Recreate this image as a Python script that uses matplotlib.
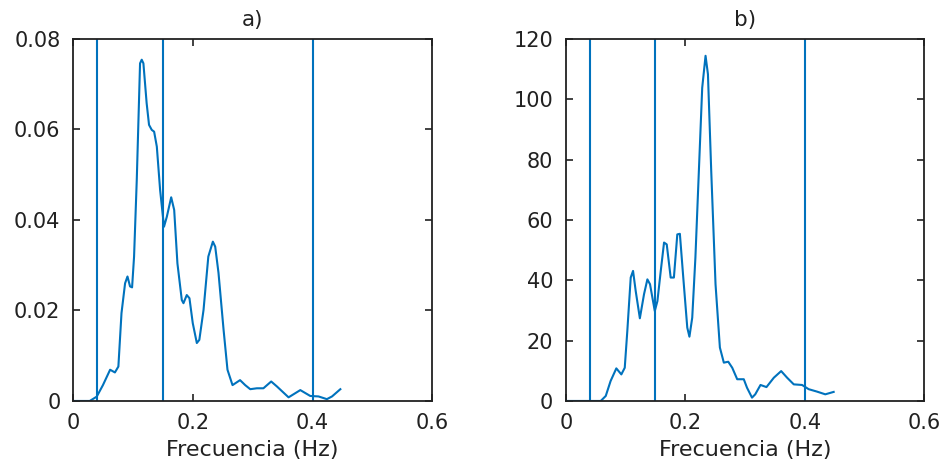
import matplotlib
matplotlib.use("Agg")
import matplotlib.pyplot as plt

plt.rcParams['font.family'] = ['DejaVu Sans']

# espectro a) - frecuencia (Hz) y potencia
freq_a = [0.0, 0.028, 0.0396, 0.050, 0.062, 0.070, 0.0758, 0.081, 0.087, 0.091,
          0.0953, 0.0987, 0.102, 0.1065, 0.112, 0.1148, 0.1176, 0.123, 0.127,
          0.1315, 0.1355, 0.140, 0.1455, 0.152, 0.1567, 0.164, 0.169, 0.1744,
          0.1817, 0.1845, 0.190, 0.1945, 0.200, 0.2068, 0.211, 0.218, 0.226,
          0.2336, 0.2375, 0.243, 0.2515, 0.258, 0.2664, 0.279, 0.2876, 0.296,
          0.307, 0.318, 0.331, 0.3406, 0.360, 0.3796, 0.3963, 0.410, 0.424,
          0.4326, 0.4465]
psd_a = [0.0, 0.0, 0.00095, 0.0035, 0.0069, 0.0063, 0.0076, 0.0194, 0.026, 0.0275,
         0.0253, 0.0251, 0.0319, 0.0488, 0.0746, 0.0754, 0.0746, 0.0658, 0.061,
         0.0599, 0.0595, 0.0562, 0.0466, 0.0385, 0.0407, 0.045, 0.0422, 0.0304,
         0.0223, 0.0216, 0.0234, 0.0227, 0.0172, 0.0128, 0.0135, 0.0201, 0.0319,
         0.0352, 0.0341, 0.0283, 0.0157, 0.0069, 0.0035, 0.0046, 0.0035, 0.0026,
         0.0028, 0.0028, 0.0043, 0.0032, 0.0008, 0.0024, 0.0011, 0.0010, 0.0004,
         0.0010, 0.0026]

# espectro b)
freq_b = [0.0, 0.0585, 0.0669, 0.075, 0.0846, 0.093, 0.0987, 0.103, 0.1087, 0.1126,
          0.117, 0.124, 0.131, 0.1366, 0.141, 0.149, 0.1534, 0.159, 0.1645, 0.169,
          0.1756, 0.181, 0.1867, 0.191, 0.1967, 0.2034, 0.207, 0.2117, 0.217,
          0.2228, 0.2284, 0.234, 0.238, 0.2435, 0.2507, 0.258, 0.2646, 0.272,
          0.2787, 0.287, 0.298, 0.3034, 0.3118, 0.3172, 0.326, 0.336, 0.3483,
          0.3606, 0.3706, 0.3817, 0.3956, 0.4067, 0.4206, 0.4345, 0.4485]
psd_b = [0.0, 0.0, 1.66, 6.6, 10.8, 8.8, 11.0, 23.2, 40.9, 43.1,
         36.5, 27.4, 35.4, 40.3, 38.7, 29.8, 33.1, 43.1, 52.5, 51.9,
         40.9, 40.9, 55.2, 55.4, 40.9, 24.3, 21.3, 27.6, 47.5,
         76.2, 103.8, 114.4, 108.3, 76.2, 38.7, 17.7, 12.7, 13.0,
         11.0, 7.2, 7.2, 4.4, 1.1, 2.2, 5.3, 4.6, 7.7,
         9.9, 7.7, 5.5, 5.3, 3.9, 3.1, 2.2, 3.0]

# limites de las bandas VLF / LF / HF
bands = [0.04, 0.15, 0.4]

xticks = [0, 0.2, 0.4, 0.6]
xticklabels = ["0", "0.2", "0.4", "0.6"]
yticks_a = [0, 0.02, 0.04, 0.06, 0.08]
yticklabels_a = ["0", "0.02", "0.04", "0.06", "0.08"]
yticks_b = [0, 20, 40, 60, 80, 100, 120]
yticklabels_b = ["0", "20", "40", "60", "80", "100", "120"]

blue = "#0072BD"
dark = "#212121"
fig = plt.figure(figsize=(9.43, 4.63), dpi=100)
ax1 = fig.add_axes([0.0774, 0.134, 0.381, 0.782])
ax2 = fig.add_axes([0.600, 0.134, 0.380, 0.782])

panels = [
    (ax1, freq_a, psd_a, yticks_a, yticklabels_a, "a)"),
    (ax2, freq_b, psd_b, yticks_b, yticklabels_b, "b)"),
]
for ax, f, p, yt, ytl, title in panels:
    ax.plot(f, p, color=blue, lw=1.5)
    for b in bands:
        ax.axvline(b, color=blue, lw=1.5)
    ax.set_xlim(0, 0.6)
    ax.set_ylim(yt[0], yt[-1])
    ax.set_xticks(xticks)
    ax.set_xticklabels(xticklabels)
    ax.set_yticks(yt)
    ax.set_yticklabels(ytl)
    ax.tick_params(direction="in", length=5, width=1.2, colors=dark,
                   labelsize=15, top=True, right=True, pad=9)
    for s in ax.spines.values():
        s.set_color(dark)
        s.set_linewidth(1.3)
    ax.set_title(title, fontsize=15.5, color=dark, pad=9)
    ax.set_xlabel("Frecuencia (Hz)", fontsize=16, color=dark, labelpad=5)

fig.savefig("out.png", dpi=100)
